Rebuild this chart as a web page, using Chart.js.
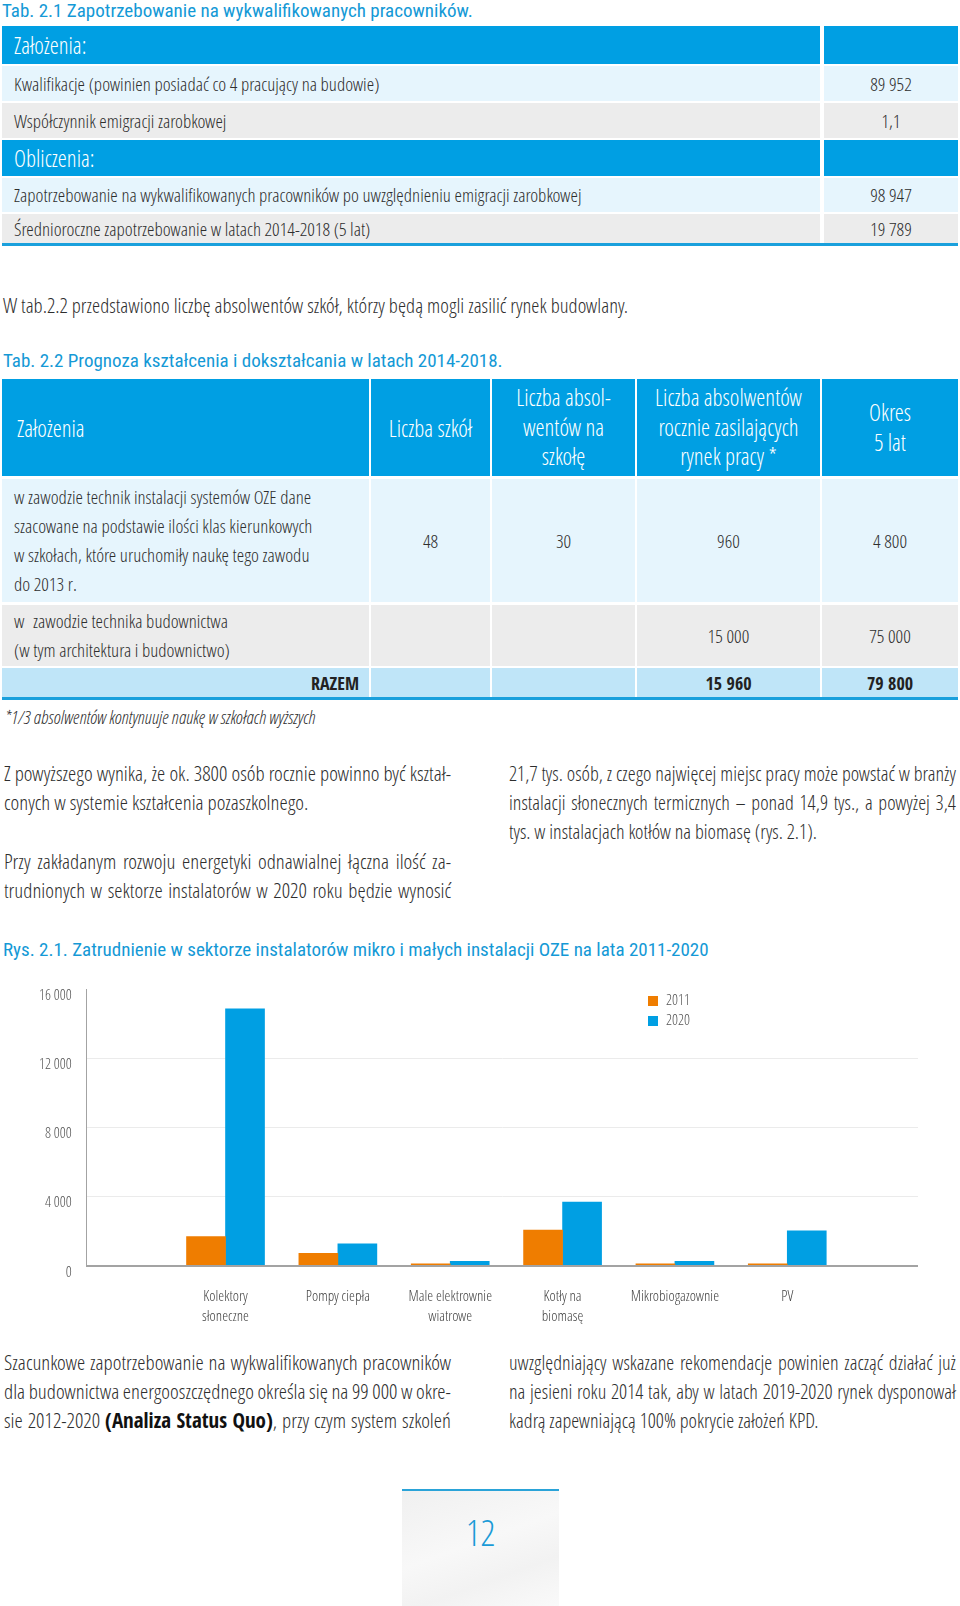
<!DOCTYPE html>
<html>
<head>
<meta charset="utf-8">
<script src="https://cdn.jsdelivr.net/npm/chart.js@4"></script>
<style>
body{margin:0;background:#fff;}
#page{position:relative;width:960px;height:1606px;overflow:hidden;font-family:"Open Sans Condensed Light","Open Sans",sans-serif;font-stretch:75%;color:#2e2e2e;}
b{font-family:"Open Sans Condensed","Open Sans",sans-serif;font-weight:bold;color:#111;}
.t{position:absolute;white-space:nowrap;}
.title{font-family:"Roboto Condensed",Roboto,sans-serif;color:#1499d6;font-size:19px;line-height:24px;}
.c{position:absolute;display:flex;align-items:center;box-sizing:border-box;white-space:nowrap;}
.hdr{background:#009fe3;color:#fff;font-size:23px;}
.lb{background:#e6f5fd;font-size:19px;}
.gr{background:#ececec;font-size:19px;}
.sum{background:#bfe5f8;font-size:18px;font-family:"Open Sans Condensed","Open Sans",sans-serif;font-weight:bold;color:#222;}
.ctr{justify-content:center;text-align:center;}
.line{position:absolute;height:3px;background:#1aa0dc;}
.jl{position:absolute;line-height:29px;height:29px;display:flex;justify-content:space-between;white-space:nowrap;}
.ll{position:absolute;line-height:29px;height:29px;white-space:nowrap;}
.L{font-size:21px;}
.R{font-size:20.3px;}
#chartBox{position:absolute;left:0;top:975px;width:960px;height:360px;}
.lg{position:absolute;font-size:15px;color:#555;line-height:20px;}
.lg i{display:inline-block;width:10px;height:10px;margin-right:8px;vertical-align:-1px;}
</style>
</head>
<body>
<div id="page">

<div class="t title" style="left:2px;top:-1px">Tab. 2.1 Zapotrzebowanie na wykwalifikowanych pracowników.</div>

<!-- tabela 2.1 -->
<div class="c hdr" style="left:2px;top:26px;width:818px;height:38px;padding-left:12px">Założenia:</div>
<div class="c hdr" style="left:824px;top:26px;width:134px;height:38px"></div>
<div class="c lb" style="left:2px;top:66px;width:818px;height:35px;padding-left:12px">Kwalifikacje (powinien posiadać co 4 pracujący na budowie)</div>
<div class="c lb ctr" style="left:824px;top:66px;width:134px;height:35px">89 952</div>
<div class="c gr" style="left:2px;top:103px;width:818px;height:35px;padding-left:12px">Współczynnik emigracji zarobkowej</div>
<div class="c gr ctr" style="left:824px;top:103px;width:134px;height:35px">1,1</div>
<div class="c hdr" style="left:2px;top:140px;width:818px;height:36px;padding-left:12px">Obliczenia:</div>
<div class="c hdr" style="left:824px;top:140px;width:134px;height:36px"></div>
<div class="c lb" style="left:2px;top:178px;width:818px;height:34px;padding-left:12px">Zapotrzebowanie na wykwalifikowanych pracowników po uwzględnieniu emigracji zarobkowej</div>
<div class="c lb ctr" style="left:824px;top:178px;width:134px;height:34px">98 947</div>
<div class="c gr" style="left:2px;top:214px;width:818px;height:29px;padding-left:12px">Średnioroczne zapotrzebowanie w latach 2014-2018 (5 lat)</div>
<div class="c gr ctr" style="left:824px;top:214px;width:134px;height:29px">19 789</div>
<div class="line" style="left:2px;top:243px;width:956px"></div>

<div class="t" style="left:3px;top:293px;font-size:20.8px;line-height:24px">W tab.2.2 przedstawiono liczbę absolwentów szkół, którzy będą mogli zasilić rynek budowlany.</div>

<div class="t title" style="left:3px;top:349px">Tab. 2.2 Prognoza kształcenia i dokształcania w latach 2014-2018.</div>

<!-- tabela 2.2 -->
<div class="c hdr" style="left:2px;top:379px;width:367px;height:97px;padding-left:15px">Założenia</div>
<div class="c hdr ctr" style="left:371px;top:379px;width:119px;height:97px">Liczba szkół</div>
<div class="c hdr ctr" style="left:492px;top:379px;width:143px;height:97px;line-height:29.5px">Liczba absol-<br>wentów na<br>szkołę</div>
<div class="c hdr ctr" style="left:637px;top:379px;width:183px;height:97px;line-height:29.5px">Liczba absolwentów<br>rocznie zasilających<br>rynek pracy *</div>
<div class="c hdr ctr" style="left:822px;top:379px;width:136px;height:97px;line-height:29.5px">Okres<br>5 lat</div>

<div class="c lb" style="left:2px;top:479px;width:367px;height:123px;padding-left:12px;line-height:29px">w zawodzie technik instalacji systemów OZE dane<br>szacowane na podstawie ilości klas kierunkowych<br>w szkołach, które uruchomiły naukę tego zawodu<br>do 2013 r.</div>
<div class="c lb ctr" style="left:371px;top:479px;width:119px;height:123px">48</div>
<div class="c lb ctr" style="left:492px;top:479px;width:143px;height:123px">30</div>
<div class="c lb ctr" style="left:637px;top:479px;width:183px;height:123px">960</div>
<div class="c lb ctr" style="left:822px;top:479px;width:136px;height:123px">4 800</div>

<div class="c gr" style="left:2px;top:605px;width:367px;height:61px;padding-left:12px;line-height:29px">w&nbsp; zawodzie technika budownictwa<br>(w tym architektura i budownictwo)</div>
<div class="c gr" style="left:371px;top:605px;width:119px;height:61px"></div>
<div class="c gr" style="left:492px;top:605px;width:143px;height:61px"></div>
<div class="c gr ctr" style="left:637px;top:605px;width:183px;height:61px">15 000</div>
<div class="c gr ctr" style="left:822px;top:605px;width:136px;height:61px">75 000</div>

<div class="c sum" style="left:2px;top:668px;width:367px;height:29px;justify-content:flex-end;padding-right:10px">RAZEM</div>
<div class="c sum" style="left:371px;top:668px;width:119px;height:29px"></div>
<div class="c sum" style="left:492px;top:668px;width:143px;height:29px"></div>
<div class="c sum ctr" style="left:637px;top:668px;width:183px;height:29px">15 960</div>
<div class="c sum ctr" style="left:822px;top:668px;width:136px;height:29px">79 800</div>
<div class="line" style="left:2px;top:697px;width:956px"></div>

<div class="t" style="left:5px;top:705px;font-size:18.5px;line-height:24px;font-style:italic">*1/3 absolwentów kontynuuje naukę w szkołach wyższych</div>

<!-- tekst dwukolumnowy -->
<div class="jl L" style="left:4px;top:759px;width:447px">Z powyższego wynika, że ok. 3800 osób rocznie powinno być kształ-</div>
<div class="ll L" style="left:4px;top:788px">conych w systemie kształcenia pozaszkolnego.</div>
<div class="jl L" style="left:4px;top:847px;width:447px">Przy zakładanym rozwoju energetyki odnawialnej łączna ilość za-</div>
<div class="jl L" style="left:4px;top:876px;width:447px">trudnionych w sektorze instalatorów w 2020 roku będzie wynosić</div>
<div class="jl R" style="left:509px;top:759px;width:447px">21,7 tys. osób, z czego najwięcej miejsc pracy może powstać w branży</div>
<div class="jl R" style="left:509px;top:788px;width:447px">instalacji słonecznych termicznych – ponad 14,9 tys., a powyżej 3,4</div>
<div class="ll R" style="left:509px;top:817px">tys. w instalacjach kotłów na biomasę (rys. 2.1).</div>

<div class="t title" style="left:3px;top:938px">Rys. 2.1. Zatrudnienie w sektorze instalatorów mikro i małych instalacji OZE na lata 2011-2020</div>

<div id="chartBox"><canvas id="employmentChart"></canvas></div>
<div id="legend"></div>

<div class="jl L" style="left:4px;top:1348px;width:447px">Szacunkowe zapotrzebowanie na wykwalifikowanych pracowników</div>
<div class="jl L" style="left:4px;top:1377px;width:447px">dla budownictwa energooszczędnego określa się na 99 000 w okre-</div>
<div class="jl L" style="left:4px;top:1406px;width:447px">sie 2012-2020 <b>(Analiza&nbsp;Status&nbsp;Quo)</b>, przy czym system szkoleń</div>
<div class="jl R" style="left:509px;top:1348px;width:447px">uwzględniający wskazane rekomendacje powinien zacząć działać już</div>
<div class="jl R" style="left:509px;top:1377px;width:447px">na jesieni roku 2014 tak, aby w latach 2019-2020 rynek dysponował</div>
<div class="ll R" style="left:509px;top:1406px">kadrą zapewniającą 100% pokrycie założeń KPD.</div>

<div style="position:absolute;left:402px;top:1489px;width:157px;height:117px;border-top:2px solid #2aa3d8;background:linear-gradient(160deg,#f0f0f0 0%,#f8f8f8 45%,#f2f2f2 70%,#fafafa 100%);"></div>
<div class="t" style="left:402px;top:1510px;width:157px;text-align:center;font-size:37px;line-height:44px;color:#1a9bd7">12</div>

</div>

<script>
// kategorie (os X) - etykiety wieloliniowe
const categories = [['Kolektory', 'słoneczne'], 'Pompy ciepła', ['Male elektrownie', 'wiatrowe'], ['Kotły na', 'biomasę'], 'Mikrobiogazownie', 'PV'];
// serie
const seriesLabels = ['2011', '2020'];
const seriesColors = ['#ef7d00', '#009fe3'];
// zatrudnienie 2011 i 2020
let values2011 = [1680, 720, 110, 2060, 110, 110];
let values2020 = [14850, 1270, 250, 3680, 250, 2020];
// os Y
const yMax = 16000;
const yStep = 4000;

const fontFam = '"Open Sans Condensed Light", "Open Sans", sans-serif';
const fmt = v => String(v).replace(/\B(?=(\d{3})+(?!\d))/g, ' ');

// wyjustowane linie tekstu - slowa rozlozone na cala szerokosc
document.querySelectorAll('.jl').forEach(el => {
    const words = el.innerHTML.trim().split(/\s+/);
    el.innerHTML = words.map(w => '<span>' + w + '</span>').join('');
});

// legenda html
const legend = document.getElementById('legend');
seriesLabels.forEach((lab, i) => {
    const d = document.createElement('div');
    d.className = 'lg';
    d.style.left = '648px';
    d.style.top = (989 + i * 20) + 'px';
    d.innerHTML = '<i style="background:' + seriesColors[i] + '"></i>' + lab;
    legend.appendChild(d);
});

//setup
const dataEmployment = {
    datasets: [values2011, values2020].map((vals, i) => ({
        label: seriesLabels[i],
        data: vals.map((v, k) => ({x: k, y: v})),
        backgroundColor: seriesColors[i],
        borderWidth: 0,
        barThickness: 39,
    }))
};

//options
const optionEmployment = {
    responsive: true,
    maintainAspectRatio: false,
    animation: false,
    layout: {padding: {top: 14, right: 42, left: 0, bottom: 0}},
    plugins: {
        legend: {display: false},
        tooltip: {enabled: false}
    },
    scales: {
        x: {
            type: 'linear',
            min: -0.619,
            max: 5.547,
            grid: {display: false},
            border: {display: false},
            afterFit: s => { s.height = 69.3; },
            ticks: {
                stepSize: 1,
                includeBounds: false,
                autoSkip: false,
                maxRotation: 0,
                padding: 13,
                color: '#444',
                font: {family: fontFam, size: 15, lineHeight: 1.35},
                callback: v => (Number.isInteger(v) && categories[v] !== undefined) ? categories[v] : ''
            }
        },
        y: {
            min: 0,
            max: yMax,
            afterFit: s => { s.width = 86.7; },
            border: {display: true, color: '#a3a3a3', width: 1},
            grid: {
                drawTicks: true,
                tickLength: 15,
                tickColor: 'rgba(0,0,0,0)',
                color: c => c.tick.value === 0 ? '#a3a3a3' : (c.tick.value === yMax ? 'rgba(0,0,0,0)' : '#ebebeb'),
                lineWidth: c => c.tick.value === 0 ? 2 : 1
            },
            ticks: {
                stepSize: yStep,
                padding: 0,
                labelOffset: 7,
                color: '#555',
                font: {family: fontFam, size: 15},
                callback: v => fmt(v)
            }
        }
    }
};

//render
const employmentChart = new Chart(
    document.getElementById('employmentChart').getContext('2d'),
    {type: 'bar', data: dataEmployment, options: optionEmployment}
);
</script>
</body>
</html>
